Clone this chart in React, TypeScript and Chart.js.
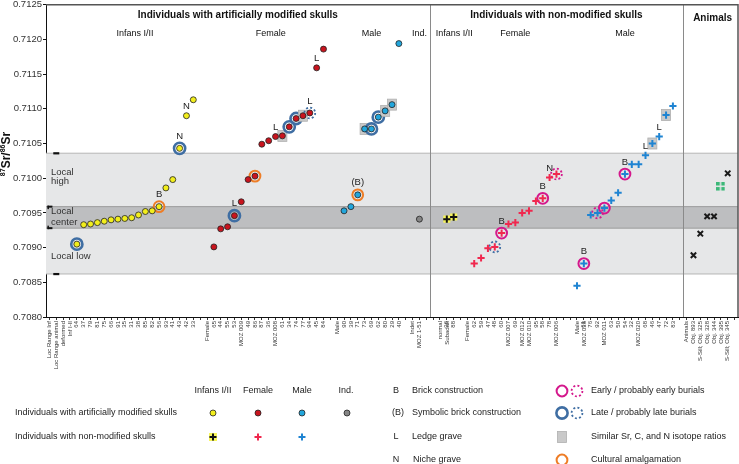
import React, { useEffect, useRef } from "react";
import { Chart, registerables } from "chart.js";
Chart.register(...registerables);

const FONT = "'Liberation Sans', Arial, Helvetica, sans-serif";

// ---- axis ----
const yMin = 0.708;
const yMax = 0.7125;
const yStep = 0.0005;

// ---- local ranges (bands) ----
const localHigh = 0.71036;
const localLow = 0.70862;
const centerHigh = 0.70959;
const centerLow = 0.70928;

// ---- data ----
const locLabels = ["Loc Range Inf", "Loc Range animal", "deformed", "Inf I-II"];

const infModLabels = ["64", "37", "79", "81", "75", "66", "91", "35", "31", "38", "85", "82", "56", "93", "41", "43", "42", "33"];
const infModValues = [0.70905, 0.70933, 0.70934, 0.70936, 0.70938, 0.7094, 0.70941, 0.70942, 0.70943, 0.70947, 0.70952, 0.70953, 0.70959, 0.70986, 0.70998, 0.71043, 0.7109, 0.71113];
const infModRings: Record<string, string> = { "64": "late", "56": "cult", "43": "late" };
const infModTags: Record<string, string> = { "56": "B", "43": "N", "42": "N" };

const femModLabels = ["65", "44", "55", "53", "MOZ 009", "49", "86", "87", "36", "MOZ 008", "61", "34", "74", "77", "94", "45", "84"];
const femModValues = [0.70901, 0.70927, 0.7093, 0.70946, 0.70966, 0.70998, 0.71003, 0.71049, 0.71054, 0.7106, 0.71061, 0.71074, 0.71086, 0.7109, 0.71094, 0.71159, 0.71186];
const femModRings: Record<string, string> = { "53": "late", "86": "cult", "61": "similar", "34": "late", "74": "late", "77": "similar", "94": "lateDot" };
const femModTags: Record<string, string> = { "53": "L", "MOZ 008": "L", "94": "L", "45": "L" };

const maleModLabels = ["90", "39", "71", "73", "69", "62", "80", "29", "40"];
const maleModValues = [0.70953, 0.70959, 0.70976, 0.71071, 0.71071, 0.71088, 0.71097, 0.71106, 0.71194];
const maleModRings: Record<string, string> = { "71": "cult", "73": "similar", "69": "late", "62": "late", "80": "similar", "29": "similar" };
const maleModTags: Record<string, string> = { "71": "(B)" };

const indModLabels = ["MOZ 1-51"];
const indModValues = [0.70941];

const infNonLabels = ["36", "88"];
const infNonValues = [0.70941, 0.70944];

const femNonLabels = ["62", "59", "47", "48", "60", "MOZ 007", "69", "MOZ 012", "MOZ 010", "95", "58", "78", "MOZ 006"];
const femNonValues = [0.70877, 0.70885, 0.70899, 0.70901, 0.70921, 0.70934, 0.70936, 0.7095, 0.70953, 0.70967, 0.70971, 0.71001, 0.71006];
const femNonRings: Record<string, string> = { "48": "lateDot", "60": "early", "58": "early", "MOZ 006": "earlyDot" };
const femNonTags: Record<string, string> = { "60": "B", "58": "B", "78": "N" };

const maleNonLabels = ["MOZ 018", "61", "76", "92", "MOZ 011", "63", "50", "54", "32", "MOZ 020", "68", "46", "47", "72", "83"];
const maleNonValues = [0.70845, 0.70877, 0.70947, 0.7095, 0.70957, 0.70968, 0.70979, 0.71006, 0.7102, 0.7102, 0.71033, 0.7105, 0.7106, 0.71091, 0.71104];
const maleNonRings: Record<string, string> = { "61": "early", "92": "earlyDot", "MOZ 011": "early", "54": "early", "46": "similar", "72": "similar" };
const maleNonTags: Record<string, string> = { "61": "B", "54": "B", "68": "L", "47": "L" };

const animalLabels = ["Obj. 893", "S-Sill; Obj. 325", "Obj. 328", "Obj. 344", "Obj. 395", "S-Sill; Obj. 345"];
const animalValues = [0.70889, 0.7092, 0.70945, 0.70945, 0.70988, 0.71007];
const animalMarkers = ["x", "x", "x", "x", "green", "x"];

// ---- build category axis ----
const axisLabels: (string | string[])[] = [];
const add = (...xs: (string | string[])[]) => {
  const s = axisLabels.length;
  axisLabels.push(...xs);
  return s;
};
add(...locLabels);
const sInfMod = add(...infModLabels);
add("", "Female");
const sFemMod = add(...femModLabels);
add("", "Male");
const sMaleMod = add(...maleModLabels);
add("", "Indet");
const sIndMod = add(...indModLabels);
add("", "", ["normal", "Subadult"]);
const sInfNon = add(...infNonLabels);
add("", "Female");
const sFemNon = add(...femNonLabels);
add("", "");
const sMaleNon = add(["Male", maleNonLabels[0]], ...maleNonLabels.slice(1));
const sDivider2 = add("") + 1;
add("Animals");
const sAnimal = add(...animalLabels);
add("");
const sDivider1 = sIndMod + 2; // boundary index after Ind. section

const N = axisLabels.length;
const series = (start: number, values: number[]) => {
  const a: (number | null)[] = new Array(N).fill(null);
  values.forEach((v, i) => (a[start + i] = v));
  return a;
};

const groups = [
  { start: sInfMod, labels: infModLabels, values: infModValues, rings: infModRings, tags: infModTags },
  { start: sFemMod, labels: femModLabels, values: femModValues, rings: femModRings, tags: femModTags },
  { start: sMaleMod, labels: maleModLabels, values: maleModValues, rings: maleModRings, tags: maleModTags },
  { start: sFemNon, labels: femNonLabels, values: femNonValues, rings: femNonRings, tags: femNonTags },
  { start: sMaleNon, labels: maleNonLabels, values: maleNonValues, rings: maleNonRings, tags: maleNonTags },
];

// ---- colours ----
const C = {
  yellow: "#f2ee1c",
  red: "#c8141e",
  blue: "#22a6dc",
  grey: "#858585",
  crossRed: "#f0284e",
  crossBlue: "#1f84d2",
  late: "#3f6ea3",
  early: "#d4188c",
  cult: "#ee7d26",
  similar: "#c9c9c9",
  green: "#3cb878",
};

function makeGreenDots() {
  const c = document.createElement("canvas");
  c.width = 9;
  c.height = 9;
  const g = c.getContext("2d")!;
  g.fillStyle = C.green;
  [[0, 0], [5, 0], [0, 5], [5, 5]].forEach(([x, y]) => g.fillRect(x, y, 3.5, 3.5));
  return c;
}

function ring(ctx: CanvasRenderingContext2D, x: number, y: number, type: string) {
  ctx.save();
  if (type === "similar") {
    ctx.fillStyle = C.similar;
    ctx.strokeStyle = "#b0b0b0";
    ctx.lineWidth = 0.8;
    ctx.fillRect(x - 4.5, y - 5.5, 9, 11);
    ctx.strokeRect(x - 4.5, y - 5.5, 9, 11);
    ctx.restore();
    return;
  }
  const col = type.startsWith("late") ? C.late : type.startsWith("early") ? C.early : C.cult;
  ctx.strokeStyle = col;
  ctx.lineWidth = type === "late" ? 2.6 : 2;
  if (type.endsWith("Dot")) {
    ctx.setLineDash([2, 2.2]);
    ctx.lineWidth = 1.8;
  }
  ctx.beginPath();
  ctx.arc(x, y, type === "late" ? 5.6 : 5.4, 0, Math.PI * 2);
  ctx.stroke();
  ctx.restore();
}

function cross(ctx: CanvasRenderingContext2D, x: number, y: number, col: string, bg?: string) {
  ctx.save();
  if (bg) {
    ctx.fillStyle = bg;
    ctx.fillRect(x - 4, y - 4, 8, 8);
  }
  ctx.strokeStyle = col;
  ctx.lineWidth = 2;
  ctx.beginPath();
  ctx.moveTo(x - 3.5, y);
  ctx.lineTo(x + 3.5, y);
  ctx.moveTo(x, y - 3.5);
  ctx.lineTo(x, y + 3.5);
  ctx.stroke();
  ctx.restore();
}

function dot(ctx: CanvasRenderingContext2D, x: number, y: number, col: string) {
  ctx.save();
  ctx.fillStyle = col;
  ctx.strokeStyle = "#222";
  ctx.lineWidth = 0.8;
  ctx.beginPath();
  ctx.arc(x, y, 3, 0, Math.PI * 2);
  ctx.fill();
  ctx.stroke();
  ctx.restore();
}

const decorPlugin = {
  id: "decor",
  beforeDatasetsDraw(chart: any) {
    const { ctx, chartArea: a, scales } = chart;
    const xs = scales.x;
    const ys = scales.y;
    ctx.save();
    // bands
    const yh = ys.getPixelForValue(localHigh);
    const yl = ys.getPixelForValue(localLow);
    ctx.fillStyle = "#e6e7e8";
    ctx.fillRect(a.left, yh, a.right - a.left, yl - yh);
    const ch = ys.getPixelForValue(centerHigh);
    const cl = ys.getPixelForValue(centerLow);
    ctx.fillStyle = "#bdbec0";
    ctx.fillRect(a.left, ch, a.right - a.left, cl - ch);
    ctx.strokeStyle = "#b5b5b5";
    ctx.lineWidth = 1;
    [yh, yl].forEach((yy) => {
      ctx.beginPath();
      ctx.moveTo(a.left, yy);
      ctx.lineTo(a.right, yy);
      ctx.stroke();
    });
    ctx.strokeStyle = "#9c9c9c";
    [ch, cl].forEach((yy) => {
      ctx.beginPath();
      ctx.moveTo(a.left, yy);
      ctx.lineTo(a.right, yy);
      ctx.stroke();
    });
    // local range marks
    ctx.fillStyle = "#111";
    const x1 = xs.getPixelForValue(1);
    ctx.fillRect(x1 - 3, yh - 1, 6, 2.2);
    ctx.fillRect(x1 - 3, yl - 1, 6, 2.2);
    const x0 = xs.getPixelForValue(0);
    ctx.fillRect(x0 - 2, ch - 1, 5, 2);
    ctx.fillRect(x0 - 2, cl - 1, 5, 2);
    ctx.fillRect(x0 - 2, ch - 1, 1.5, 3.5);
    ctx.fillRect(x0 - 2, cl - 2.5, 1.5, 3.5);
    // band labels
    ctx.fillStyle = "#333";
    ctx.font = `9.5px ${FONT}`;
    ctx.textBaseline = "middle";
    ctx.textAlign = "left";
    ctx.fillText("Local", a.left + 5, ys.getPixelForValue(0.71009));
    ctx.fillText("high", a.left + 5, ys.getPixelForValue(0.70995));
    ctx.fillText("Local", a.left + 5, ys.getPixelForValue(0.70952));
    ctx.fillText("center", a.left + 5, ys.getPixelForValue(0.70937));
    ctx.fillText("Local low", a.left + 5, ys.getPixelForValue(0.70887));
    // dividers
    const b1 = (xs.getPixelForValue(sDivider1 - 1) + xs.getPixelForValue(sDivider1)) / 2;
    const b2 = (xs.getPixelForValue(sDivider2 - 1) + xs.getPixelForValue(sDivider2)) / 2;
    ctx.strokeStyle = "#8a8a8a";
    ctx.lineWidth = 1;
    [b1, b2].forEach((bx) => {
      ctx.beginPath();
      ctx.moveTo(Math.round(bx) + 0.5, a.top);
      ctx.lineTo(Math.round(bx) + 0.5, a.bottom);
      ctx.stroke();
    });
    // frame top/right
    ctx.strokeStyle = "#555";
    ctx.lineWidth = 1.5;
    ctx.beginPath();
    ctx.moveTo(a.left, a.top);
    ctx.lineTo(a.right, a.top);
    ctx.lineTo(a.right, a.bottom);
    ctx.stroke();
    // rings and squares behind points
    groups.forEach((g) => {
      g.labels.forEach((lab, i) => {
        const t = g.rings[lab];
        if (!t) return;
        ring(ctx, xs.getPixelForValue(g.start + i), ys.getPixelForValue(g.values[i]), t);
      });
    });
    // headers
    ctx.fillStyle = "#111";
    ctx.textAlign = "center";
    ctx.textBaseline = "middle";
    ctx.font = `bold 10px ${FONT}`;
    ctx.fillText("Individuals with artificially modified skulls", (a.left + b1) / 2, a.top + 11);
    ctx.fillText("Individuals with non-modified skulls", (b1 + b2) / 2, a.top + 11);
    ctx.fillText("Animals", (b2 + a.right) / 2 + 2, a.top + 14);
    ctx.font = `9px ${FONT}`;
    const mid = (s: number, n: number) => (xs.getPixelForValue(s) + xs.getPixelForValue(s + n - 1)) / 2;
    const sy = a.top + 29;
    ctx.fillText("Infans I/II", mid(sInfMod, infModLabels.length), sy);
    ctx.fillText("Female", mid(sFemMod, femModLabels.length) + 2, sy);
    ctx.fillText("Male", mid(sMaleMod, maleModLabels.length), sy);
    ctx.fillText("Ind.", xs.getPixelForValue(sIndMod), sy);
    ctx.textAlign = "left";
    ctx.fillText("Infans I/II", b1 + 6, sy);
    ctx.textAlign = "center";
    ctx.fillText("Female", mid(sFemNon, femNonLabels.length), sy);
    ctx.fillText("Male", mid(sMaleNon, maleNonLabels.length), sy);
    ctx.restore();
  },
  afterDatasetsDraw(chart: any) {
    const { ctx, scales } = chart;
    const xs = scales.x;
    const ys = scales.y;
    ctx.save();
    ctx.fillStyle = "#222";
    ctx.font = `9.5px ${FONT}`;
    ctx.textAlign = "center";
    ctx.textBaseline = "middle";
    groups.forEach((g) => {
      g.labels.forEach((lab, i) => {
        const t = g.tags[lab];
        if (!t) return;
        const off = g.rings[lab] && g.rings[lab] !== "similar" ? 12 : 9;
        ctx.fillText(t, xs.getPixelForValue(g.start + i), ys.getPixelForValue(g.values[i]) - off);
      });
    });
    ctx.restore();
  },
  afterDraw(chart: any) {
    const ctx: CanvasRenderingContext2D = chart.ctx;
    ctx.save();
    // y-axis title 87Sr/86Sr
    ctx.translate(10, 154);
    ctx.rotate(-Math.PI / 2);
    ctx.fillStyle = "#111";
    ctx.textBaseline = "alphabetic";
    const parts: [string, boolean][] = [["87", true], ["Sr", false], ["/", false], ["86", true], ["Sr", false]];
    const big = `bold 12px ${FONT}`;
    const small = `bold 7px ${FONT}`;
    let w = 0;
    parts.forEach(([t, sup]) => {
      ctx.font = sup ? small : big;
      w += ctx.measureText(t).width;
    });
    let x = -w / 2;
    parts.forEach(([t, sup]) => {
      ctx.font = sup ? small : big;
      ctx.fillText(t, x, sup ? -5 : 0);
      x += ctx.measureText(t).width;
    });
    ctx.restore();

    // legend
    ctx.save();
    ctx.fillStyle = "#222";
    ctx.font = `9px ${FONT}`;
    ctx.textBaseline = "middle";
    ctx.textAlign = "center";
    const r1 = 391, r2 = 413, r3 = 437, r4 = 460;
    const cx = [213, 258, 302, 347];
    ["Infans I/II", "Female", "Male", "Ind."].forEach((t, i) => ctx.fillText(t, cx[i] + (i === 3 ? -1 : 0), r1));
    ctx.textAlign = "left";
    ctx.fillText("Individuals with artificially modified skulls", 15, r2);
    ctx.fillText("Individuals with non-modified skulls", 15, r3);
    dot(ctx, cx[0], r2, C.yellow);
    dot(ctx, cx[1], r2, C.red);
    dot(ctx, cx[2], r2, C.blue);
    dot(ctx, cx[3], r2, C.grey);
    cross(ctx, cx[0], r3, "#111", "#f7f55a");
    cross(ctx, cx[1], r3, C.crossRed);
    cross(ctx, cx[2], r3, C.crossBlue);
    ctx.fillStyle = "#222";
    ctx.textAlign = "center";
    ctx.fillText("B", 396, r1);
    ctx.fillText("(B)", 398, r2);
    ctx.fillText("L", 396, r3);
    ctx.fillText("N", 396, r4);
    ctx.textAlign = "left";
    ctx.fillText("Brick construction", 412, r1);
    ctx.fillText("Symbolic brick construction", 412, r2);
    ctx.fillText("Ledge grave", 412, r3);
    ctx.fillText("Niche grave", 413, r4);
    ring(ctx, 562, r1, "early");
    ring(ctx, 577, r1, "earlyDot");
    ring(ctx, 562, r2, "late");
    ring(ctx, 577, r2, "lateDot");
    ring(ctx, 562, r3, "similar");
    ring(ctx, 562, r4, "cult");
    ctx.fillStyle = "#222";
    ctx.fillText("Early / probably early burials", 591, r1);
    ctx.fillText("Late / probably late burials", 591, r2);
    ctx.fillText("Similar Sr, C, and N isotope ratios", 591, r3);
    ctx.fillText("Cultural amalgamation", 591, r4);
    ctx.restore();
  },
};

export default function App() {
  const ref = useRef<HTMLCanvasElement>(null);
  useEffect(() => {
    const green = makeGreenDots();
    const pt = (color: string, extra: any = {}) => ({
      showLine: false,
      pointStyle: "circle",
      pointRadius: 3,
      pointHoverRadius: 3,
      pointBackgroundColor: color,
      pointBorderColor: "#222",
      pointBorderWidth: 0.8,
      borderColor: color,
      backgroundColor: color,
      ...extra,
    });
    const crossPt = (color: string, extra: any = {}) => ({
      showLine: false,
      pointStyle: "cross",
      pointRadius: 3.6,
      pointHoverRadius: 3.6,
      pointBorderColor: color,
      pointBorderWidth: 2,
      borderColor: color,
      ...extra,
    });
    const animalStyle = new Array(N).fill("crossRot");
    animalMarkers.forEach((m, i) => {
      if (m === "green") animalStyle[sAnimal + i] = green;
    });
    const chart = new Chart(ref.current!, {
      type: "line",
      data: {
        labels: axisLabels as any,
        datasets: [
          { label: "infMod", data: series(sInfMod, infModValues), ...pt(C.yellow), order: 1 },
          { label: "femMod", data: series(sFemMod, femModValues), ...pt(C.red), order: 1 },
          { label: "maleMod", data: series(sMaleMod, maleModValues), ...pt(C.blue), order: 1 },
          { label: "indMod", data: series(sIndMod, indModValues), ...pt(C.grey), order: 1 },
          {
            label: "infNonBg",
            data: series(sInfNon, infNonValues),
            showLine: false,
            pointStyle: "rect",
            pointRadius: 5,
            pointHoverRadius: 5,
            pointBackgroundColor: "#f7f55a",
            pointBorderWidth: 0,
            borderColor: "#f7f55a",
            order: 3,
          },
          { label: "infNon", data: series(sInfNon, infNonValues), ...crossPt("#111"), order: 1 },
          { label: "femNon", data: series(sFemNon, femNonValues), ...crossPt(C.crossRed), order: 1 },
          { label: "maleNon", data: series(sMaleNon, maleNonValues), ...crossPt(C.crossBlue), order: 1 },
          {
            label: "animals",
            data: series(sAnimal, animalValues),
            showLine: false,
            pointStyle: animalStyle,
            pointRadius: 3.8,
            pointHoverRadius: 3.8,
            pointBorderColor: "#1a1a1a",
            pointBorderWidth: 2,
            borderColor: "#1a1a1a",
            order: 1,
          },
        ],
      },
      options: {
        responsive: false,
        animation: false,
        devicePixelRatio: 1,
        events: [],
        layout: { autoPadding: false, padding: { top: 4.7, right: 1, left: 0, bottom: 0 } },
        plugins: { legend: { display: false }, tooltip: { enabled: false } },
        scales: {
          x: {
            type: "category",
            offset: true,
            grid: { display: true, drawOnChartArea: false, tickLength: 3, color: "#333", offset: false },
            border: { display: true, color: "#111", width: 1 },
            ticks: {
              autoSkip: false,
              maxRotation: 90,
              minRotation: 90,
              padding: 1,
              color: "#333",
              font: { size: 6, family: FONT },
            },
            afterFit: (s: any) => {
              s.height = 147;
              s.paddingLeft = 0;
              s.paddingRight = 0;
            },
          },
          y: {
            min: yMin,
            max: yMax,
            grid: { display: true, drawOnChartArea: false, tickLength: 3, color: "#111" },
            border: { display: true, color: "#111", width: 1 },
            ticks: {
              stepSize: yStep,
              padding: 1,
              color: "#333",
              font: { size: 9.5, family: FONT },
              callback: (v: any) => Number(v).toFixed(4),
            },
            afterFit: (s: any) => {
              s.width = 46;
              s.paddingTop = 0;
              s.paddingBottom = 0;
            },
          },
        },
      },
      plugins: [decorPlugin],
    });
    return () => chart.destroy();
  }, []);
  return (
    <div style={{ position: "absolute", left: 0, top: 0, width: 739, height: 464, background: "#fff" }}>
      <canvas ref={ref} width={739} height={464} style={{ display: "block" }} />
    </div>
  );
}
